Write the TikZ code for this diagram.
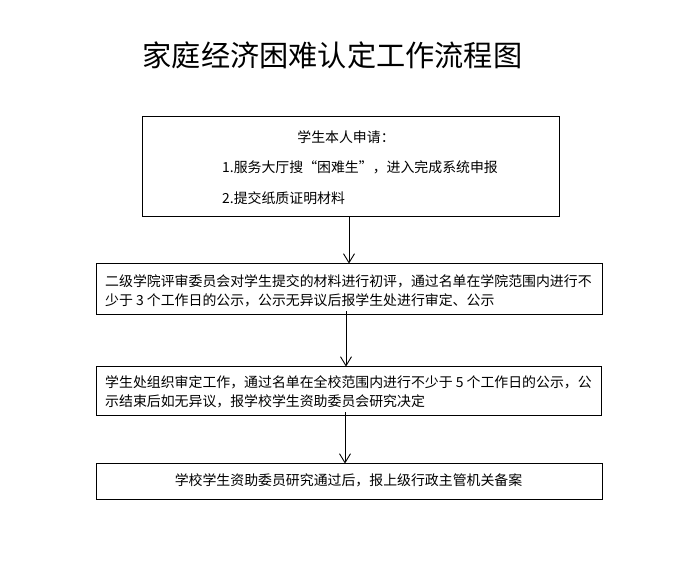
\documentclass[tikz,border=0pt]{standalone}
\usepackage{fontspec}
\setmainfont{Noto Sans CJK SC}
\newfontfamily\cjk{Noto Sans CJK SC}
\usetikzlibrary{arrows.meta}
\begin{document}
\begin{tikzpicture}[x=1pt,y=-1pt,
  box/.style={draw,line width=0.9pt,inner sep=0pt},
  txt/.style={inner sep=0pt,font=\cjk\fontsize{13.9}{18.5}\selectfont},
  arr/.style={line width=0.9pt,-{Straight Barb[length=9pt,width=11pt,line width=0.9pt]}}]
\useasboundingbox (0,0) rectangle (694,574);
\node[inner sep=0pt,font=\cjk\fontsize{29.2}{31}\selectfont] (title) at (332.5,55) {家庭经济困难认定工作流程图};
% boxes
\node[box,minimum width=417pt,minimum height=100pt] (b1) at (350.5,166) {};
\node[box,minimum width=506pt,minimum height=51pt] (b2) at (349,288.5) {};
\node[box,minimum width=505pt,minimum height=49pt] (b3) at (348.5,390.5) {};
\node[box,minimum width=506pt,minimum height=36pt] (b4) at (349,481) {};
% texts
\node[txt] (t1) at (346,137) {学生本人申请：};
\node[txt,anchor=west] (t2) at (222,167) {1.服务大厅搜“困难生”，进入完成系统申报};
\node[txt,anchor=west] (t3) at (222,198) {2.提交纸质证明材料};
\node[txt,anchor=west,align=left] (t4) at (105,291) {二级学院评审委员会对学生提交的材料进行初评，通过名单在学院范围内进行不\\少于 3 个工作日的公示，公示无异议后报学生处进行审定、公示};
\node[txt,anchor=west,align=left] (t5) at (105,392) {学生处组织审定工作，通过名单在全校范围内进行不少于 5 个工作日的公示，公\\示结束后如无异议，报学校学生资助委员会研究决定};
\node[txt] (t6) at (348.5,480) {学校学生资助委员研究通过后，报上级行政主管机关备案};
% arrows
\coordinate (x1) at (349,0);
\coordinate (x2) at (346,0);
\coordinate (x3) at (345,0);
\draw[arr] (b1.south -| x1) -- ([yshift=-1pt]b2.north -| x1);
\draw[arr] ([yshift=3pt]b2.south -| x2) -- ([yshift=-1pt]b3.north -| x2);
\draw[arr] ([yshift=3pt]b3.south -| x3) -- ([yshift=-1pt]b4.north -| x3);
\end{tikzpicture}
\end{document}
